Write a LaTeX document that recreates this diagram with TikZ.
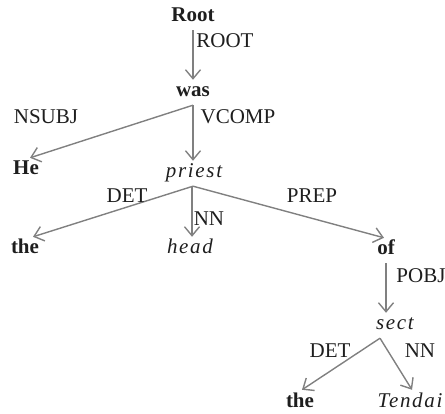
\documentclass[tikz,border=0pt]{standalone}
\usepackage{fontspec}
\setmainfont{Liberation Serif}
\newfontfamily\spacedital[LetterSpace=8]{Liberation Serif}
\usetikzlibrary{arrows.meta}
\definecolor{edgegray}{RGB}{128,128,128}
\definecolor{ink}{RGB}{30,30,30}
\tikzset{
  word/.style={anchor=base, inner xsep=1pt, inner ysep=3pt, text height=14pt, text depth=5pt,
               font=\fontsize{21}{24}\selectfont, text=ink},
  bw/.style={word, font=\fontsize{21}{24}\selectfont\bfseries},
  iw/.style={word, font=\fontsize{21}{24}\spacedital\itshape},
  rel/.style={anchor=base, inner sep=0pt, font=\fontsize{21}{24}\selectfont, text=ink},
  dep/.style={draw=edgegray, line width=1.4pt, -{Straight Barb[length=9pt,width=15pt,line width=1.4pt]}},
}
\begin{document}
\begin{tikzpicture}[x=1pt,y=-1pt]
\useasboundingbox (0,0) rectangle (445,414);

% words of the sentence
\node[bw] (root)   at (193,22)  {Root};
\node[bw] (was)    at (193,97)  {was};
\node[bw] (he)     at (26,175)  {He};
\node[iw] (priest) at (194,178) {priest};
\node[bw] (the1)   at (25,254)  {the};
\node[iw] (head)   at (190,254) {head};
\node[bw] (of)     at (386,255) {of};
\node[iw] (sect)   at (395,330) {sect};
\node[bw] (the2)   at (300,407) {the};
\node[iw] (tendai) at (410,407) {Tendai};

% dependency arcs
\draw[dep] (root.south) -- (root.south |- was.north);
\draw[dep] (was.south) -- ([xshift=4pt]he.north);
\draw[dep] (was.south) -- (was.south |- priest.north);
\draw[dep] ([xshift=-1pt]priest.south) -- ([xshift=8pt]the1.north);
\draw[dep] ([xshift=-2pt]priest.south) -- ([xshift=-2pt]priest.south |- head.north);
\draw[dep] ([xshift=-1pt]priest.south) -- ([xshift=-2pt]of.north);
\draw[dep] (of.south) -- (of.south |- sect.north);
\draw[dep] ([xshift=-15pt]sect.south) -- ([xshift=2pt]the2.north);
\draw[dep] ([xshift=-15pt]sect.south) -- ([xshift=2pt]tendai.north);

% relation labels
\node[rel] (lroot)  at (225,48)  {ROOT};
\node[rel] (lnsubj) at (46,124)  {NSUBJ};
\node[rel] (lvcomp) at (238,124) {VCOMP};
\node[rel] (ldet1)  at (127,203) {DET};
\node[rel] (lnn1)   at (209,226) {NN};
\node[rel] (lprep)  at (312,203) {PREP};
\node[rel] (lpobj)  at (421,283) {POBJ};
\node[rel] (ldet2)  at (330,358) {DET};
\node[rel] (lnn2)   at (420,358) {NN};
\end{tikzpicture}
\end{document}
